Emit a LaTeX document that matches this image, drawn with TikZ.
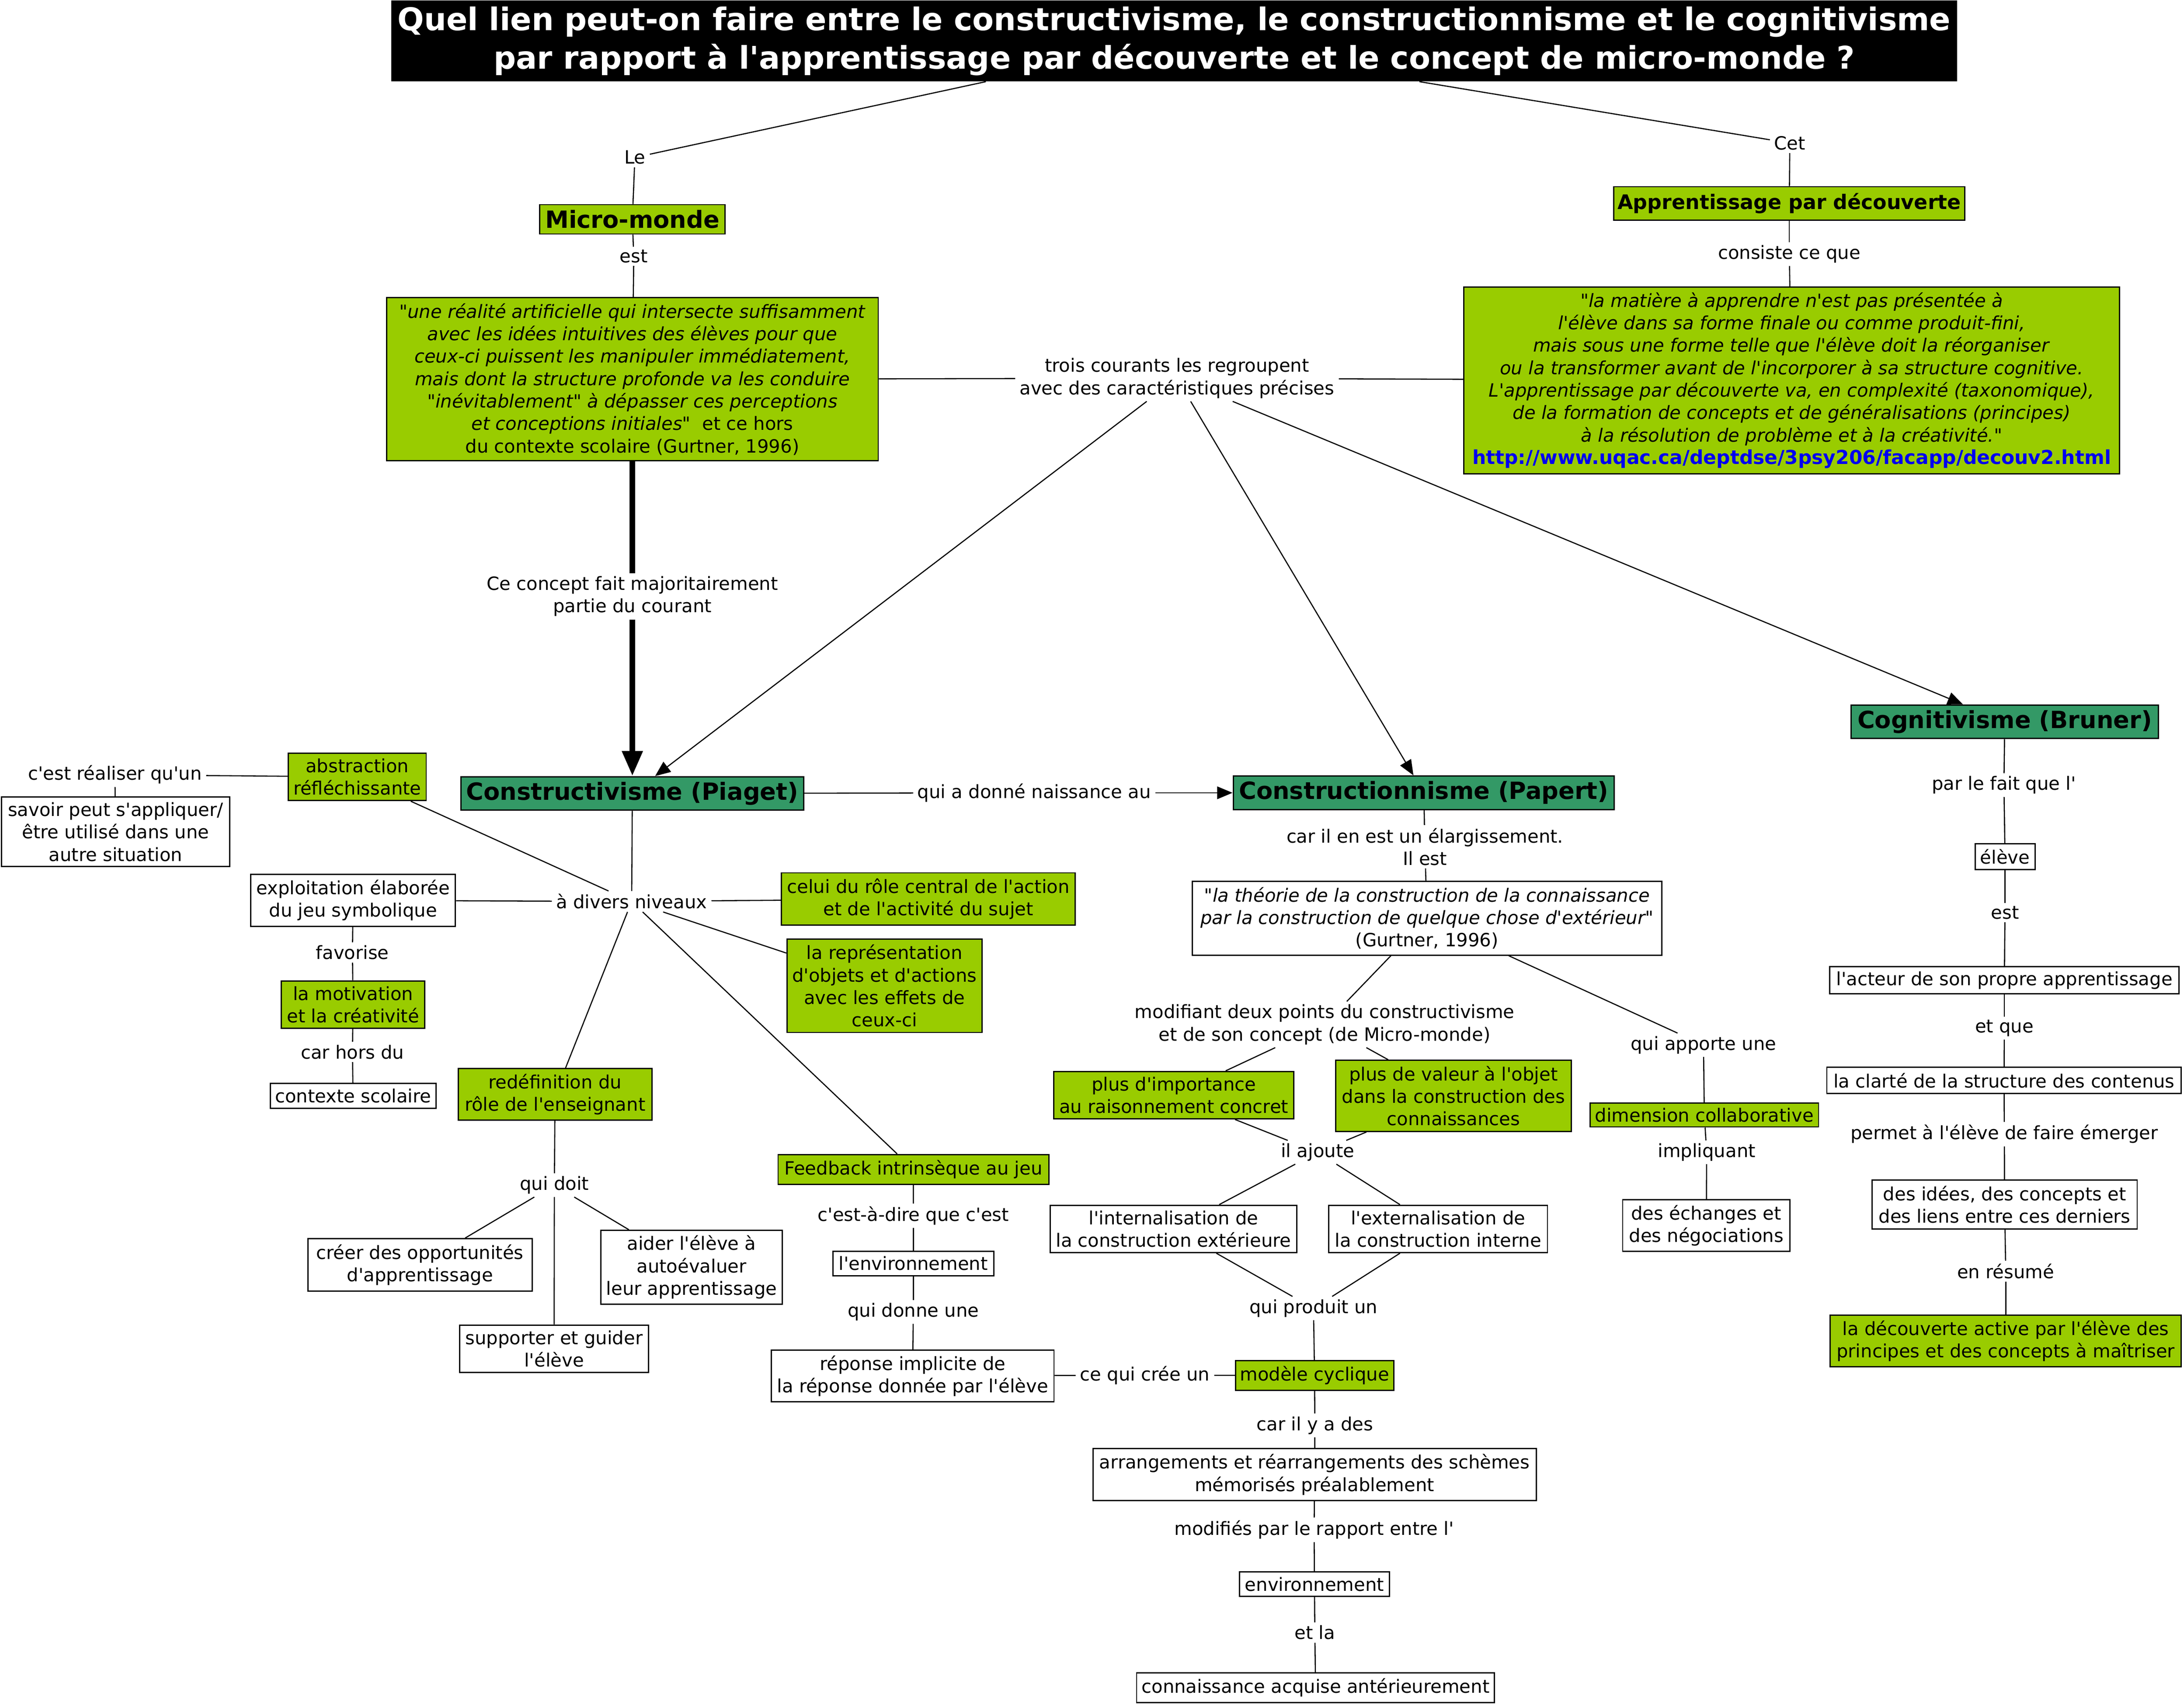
\documentclass[tikz,border=0pt]{standalone}
\usepackage{fontspec}
\newfontfamily\dv{DejaVu Sans}
\usetikzlibrary{arrows.meta}
\definecolor{lgreen}{RGB}{153,204,0}
\definecolor{dgreen}{RGB}{51,153,102}
\definecolor{urlblue}{RGB}{0,0,240}
\begin{document}
\begin{tikzpicture}[x=1pt,y=-1pt,
  txt/.style={font=\dv\fontsize{13.1}{16.1}\selectfont, align=center},
  wbox/.style={txt, draw, line width=0.9pt, fill=white, inner xsep=1pt, inner ysep=1pt},
  gbox/.style={wbox, fill=lgreen},
  hbox/.style={draw, line width=1pt, fill=dgreen, font=\dv\fontsize{17}{20}\selectfont\bfseries, inner sep=1pt},
  lbl/.style={txt, inner xsep=3pt, inner ysep=2pt},
  titlebox/.style={fill=black, text=white, font=\dv\fontsize{22.4}{27.6}\selectfont\bfseries, align=center, inner sep=1pt},
  conn/.style={line width=0.8pt},
  arr/.style={conn, -{Triangle[length=11pt,width=9pt]}},
  thick arr/.style={line width=4.2pt, -{Triangle[length=18pt,width=14pt]}}
]
\useasboundingbox (0,0) rectangle (1568,1223.4);
\fill[white] (0,0) rectangle (1568,1223.4);

% title
\node[titlebox, minimum width=1124pt, minimum height=58pt] (title) at (843,29.4)
  {Quel lien peut-on faire entre le constructivisme, le constructionnisme et le cognitivisme\\par rapport à l'apprentissage par découverte et le concept de micro-monde ?};

% top left
\node[lbl] (le) at (455.8,113) {Le};
\node[gbox, font=\dv\fontsize{17}{20}\selectfont\bfseries, minimum width=133pt, minimum height=21pt] (micro) at (454,157.4) {Micro-monde};
\node[lbl] (est1) at (455,184) {est};
\node[gbox, minimum width=353pt, minimum height=117pt] (mmq) at (454,272.2)
  {\textit{"une réalité artificielle qui intersecte suffisamment}\\
   \textit{avec les idées intuitives des élèves pour que}\\
   \textit{ceux-ci puissent les manipuler immédiatement,}\\
   \textit{mais dont la structure profonde va les conduire}\\
   \textit{"inévitablement" à dépasser ces perceptions}\\
   \textit{et conceptions initiales"}\ \ et ce hors\\
   du contexte scolaire (Gurtner, 1996)};

% top right
\node[lbl] (cet) at (1285,102.7) {Cet};
\node[gbox, font=\dv\fontsize{14.4}{17}\selectfont\bfseries, minimum width=252pt, minimum height=24pt] (appr) at (1284.6,146) {Apprentissage par découverte};
\node[lbl] (consiste) at (1284.6,182.4) {consiste ce que};
\node[gbox, minimum width=470.7pt, minimum height=134pt] (adq) at (1286.3,273)
  {\textit{"la matière à apprendre n'est pas présentée à}\\
   \textit{l'élève dans sa forme finale ou comme produit-fini,}\\
   \textit{mais sous une forme telle que l'élève doit la réorganiser}\\
   \textit{ou la transformer avant de l'incorporer à sa structure cognitive.}\\
   \textit{L'apprentissage par découverte va, en complexité (taxonomique),}\\
   \textit{de la formation de concepts et de généralisations (principes)}\\
   \textit{à la résolution de problème et à la créativité."}\\
   {\color{urlblue}\fontsize{13.8}{16.1}\selectfont\bfseries http://www.uqac.ca/deptdse/3psy206/facapp/decouv2.html}};

\node[lbl] (trois) at (845,271.5) {trois courants les regroupent\\avec des caractéristiques précises};
\node[lbl] (concept) at (454,428) {Ce concept fait majoritairement\\partie du courant};

% main currents
\node[hbox, minimum width=246pt, minimum height=24pt] (piaget) at (454,569.5) {Constructivisme (Piaget)};
\node[hbox, minimum width=273.6pt, minimum height=24pt] (papert) at (1022.2,569) {Constructionnisme (Papert)};
\node[hbox, minimum width=220.6pt, minimum height=24pt] (bruner) at (1439.3,518) {Cognitivisme (Bruner)};
\node[lbl] (donne) at (742.5,569) {qui a donné naissance au};

% constructivism branch
\node[gbox, minimum width=99pt, minimum height=34pt] (abstr) at (256.5,557.6) {abstraction\\réfléchissante};
\node[lbl] (cest) at (82.5,556) {c'est réaliser qu'un};
\node[wbox, minimum width=164pt, minimum height=50pt] (savoir) at (83,597) {savoir peut s'appliquer/\\être utilisé dans une\\autre situation};
\node[lbl] (niveaux) at (453.5,647) {à divers niveaux};
\node[wbox, minimum width=147pt, minimum height=37.5pt] (exploit) at (253.5,646.2) {exploitation élaborée\\du jeu symbolique};
\node[gbox, minimum width=211pt, minimum height=37.5pt] (celui) at (666.5,645.2) {celui du rôle central de l'action\\et de l'activité du sujet};
\node[gbox, minimum width=140pt, minimum height=67pt] (repr) at (635,707.5) {la représentation\\d'objets et d'actions\\avec les effets de\\ceux-ci};
\node[lbl] (favorise) at (253,683.6) {favorise};
\node[gbox, minimum width=103pt, minimum height=34pt] (motiv) at (253.5,721) {la motivation\\et la créativité};
\node[lbl] (carhors) at (253,755) {car hors du};
\node[wbox, minimum width=119pt, minimum height=18pt] (contexte) at (253.5,786.5) {contexte scolaire};
\node[gbox, minimum width=139pt, minimum height=37pt] (redef) at (398.5,785.5) {redéfinition du\\rôle de l'enseignant};
\node[lbl] (quidoit) at (398,850.6) {qui doit};
\node[wbox, minimum width=161pt, minimum height=37.6pt] (creer) at (301.5,907.8) {créer des opportunités\\d'apprentissage};
\node[wbox, minimum width=130pt, minimum height=53pt] (aider) at (496.5,909.5) {aider l'élève à\\autoévaluer\\leur apprentissage};
\node[wbox, minimum width=135.5pt, minimum height=34pt] (support) at (397.8,968) {supporter et guider\\l'élève};
\node[gbox, minimum width=194.3pt, minimum height=21.4pt] (feedback) at (655.8,839.3) {Feedback intrinsèque au jeu};
\node[lbl] (cestadire) at (655.7,872.6) {c'est-à-dire que c'est};
\node[wbox, minimum width=115.4pt, minimum height=17.6pt] (env1) at (655.7,906.8) {l'environnement};
\node[lbl] (quidonne) at (655.7,941.6) {qui donne une};
\node[wbox, minimum width=203pt, minimum height=37pt] (reponse) at (655.2,987.5) {réponse implicite de\\la réponse donnée par l'élève};
\node[lbl] (cree) at (822,987) {ce qui crée un};
\node[gbox, minimum width=113.6pt, minimum height=21.3pt] (modele) at (943.8,987.2) {modèle cyclique};

% constructionism branch
\node[lbl] (carilest) at (1023,607.7) {car il en est un élargissement.\\Il est};
\node[wbox, minimum width=337pt, minimum height=53pt] (theory) at (1024.5,659)
  {\textit{"la théorie de la construction de la connaissance}\\
   \textit{par la construction de quelque chose d'extérieur"}\\
   (Gurtner, 1996)};
\node[lbl] (modif) at (951,735.3) {modifiant deux points du constructivisme\\et de son concept (de Micro-monde)};
\node[lbl] (apporte) at (1223,750) {qui apporte une};
\node[gbox, minimum width=172.5pt, minimum height=34pt] (importance) at (842.7,786) {plus d'importance\\au raisonnement concret};
\node[gbox, minimum width=169pt, minimum height=51pt] (valeur) at (1043.5,786.5) {plus de valeur à l'objet\\dans la construction des\\connaissances};
\node[lbl] (ajoute) at (946,827) {il ajoute};
\node[wbox, minimum width=177pt, minimum height=34pt] (intern) at (842.5,882) {l'internalisation de\\la construction extérieure};
\node[wbox, minimum width=157pt, minimum height=34pt] (extern) at (1032.5,882) {l'externalisation de\\la construction interne};
\node[lbl] (produit) at (943,939) {qui produit un};
\node[lbl] (carilya) at (944,1023) {car il y a des};
\node[wbox, minimum width=318.3pt, minimum height=37.4pt] (arrang) at (943.8,1058.3) {arrangements et réarrangements des schèmes\\mémorisés préalablement};
\node[lbl] (modifies) at (943.5,1098) {modifiés par le rapport entre l'};
\node[wbox, minimum width=107.5pt, minimum height=17.7pt] (env2) at (943.7,1136.9) {environnement};
\node[lbl] (etla) at (944,1171.7) {et la};
\node[wbox, minimum width=257pt, minimum height=21.4pt] (connais) at (944.5,1211.3) {connaissance acquise antérieurement};
\node[gbox, minimum width=164pt, minimum height=17.2pt] (collab) at (1223.6,800.2) {dimension collaborative};
\node[lbl] (impl) at (1225.3,827) {impliquant};
\node[wbox, minimum width=120pt, minimum height=37pt] (echanges) at (1225,879.5) {des échanges et\\des négociations};

% cognitivism branch
\node[lbl] (parlefait) at (1438.7,563.5) {par le fait que l'};
\node[wbox, minimum width=43pt, minimum height=18.4pt] (eleve) at (1439.5,614.8) {élève};
\node[lbl] (est2) at (1439.5,655) {est};
\node[wbox, minimum width=251pt, minimum height=19.6pt] (acteur) at (1439,703.5) {l'acteur de son propre apprentissage};
\node[lbl] (etque) at (1439,738) {et que};
\node[wbox, minimum width=254.5pt, minimum height=18.7pt] (clarte) at (1438.8,775.4) {la clarté de la structure des contenus};
\node[lbl] (permet) at (1439,814) {permet à l'élève de faire émerger};
\node[wbox, minimum width=190.4pt, minimum height=35pt] (idees) at (1439.2,864.5) {des idées, des concepts et\\des liens entre ces derniers};
\node[lbl] (resume) at (1440,912.4) {en résumé};
\node[gbox, minimum width=252pt, minimum height=37pt] (decouv) at (1440,962.5) {la découverte active par l'élève des\\principes et des concepts à maîtriser};

% connectors
\draw[conn] (title) -- (le);
\draw[conn] (le) -- (micro);
\draw[conn] (micro) -- (est1);
\draw[conn] (est1) -- (mmq);
\draw[conn] (title) -- (cet);
\draw[conn] (cet) -- (appr);
\draw[conn] (appr) -- (consiste);
\draw[conn] (consiste) -- (adq);
\draw[conn] (mmq) -- (trois);
\draw[conn] (adq) -- (trois);
\draw[arr] (trois) -- (piaget);
\draw[arr] (trois) -- (papert);
\draw[arr] (trois) -- (bruner);
\draw[line width=4.2pt] (mmq) -- (concept);
\draw[thick arr] (concept) -- (piaget);
\draw[conn] (piaget) -- (donne);
\draw[arr] (donne) -- (papert);

\draw[conn] (abstr) -- (cest);
\draw[conn] (cest) -- (savoir);
\draw[conn] (piaget) -- (niveaux);
\draw[conn] (abstr) -- (niveaux);
\draw[conn] (exploit) -- (niveaux);
\draw[conn] (niveaux) -- (celui);
\draw[conn] (niveaux) -- (repr);
\draw[conn] (niveaux) -- (redef);
\draw[conn] (niveaux) -- (feedback);
\draw[conn] (exploit) -- (favorise);
\draw[conn] (favorise) -- (motiv);
\draw[conn] (motiv) -- (carhors);
\draw[conn] (carhors) -- (contexte);
\draw[conn] (redef) -- (quidoit);
\draw[conn] (quidoit) -- (creer);
\draw[conn] (quidoit) -- (aider);
\draw[conn] (quidoit) -- (support);
\draw[conn] (feedback) -- (cestadire);
\draw[conn] (cestadire) -- (env1);
\draw[conn] (env1) -- (quidonne);
\draw[conn] (quidonne) -- (reponse);
\draw[conn] (reponse) -- (cree);
\draw[conn] (cree) -- (modele);

\draw[conn] (papert) -- (carilest);
\draw[conn] (carilest) -- (theory);
\draw[conn] (theory) -- (modif);
\draw[conn] (theory) -- (apporte);
\draw[conn] (modif) -- (importance);
\draw[conn] (modif) -- (valeur);
\draw[conn] (importance) -- (ajoute);
\draw[conn] (valeur) -- (ajoute);
\draw[conn] (ajoute) -- (intern);
\draw[conn] (ajoute) -- (extern);
\draw[conn] (intern) -- (produit);
\draw[conn] (extern) -- (produit);
\draw[conn] (produit) -- (modele);
\draw[conn] (modele) -- (carilya);
\draw[conn] (carilya) -- (arrang);
\draw[conn] (arrang) -- (modifies);
\draw[conn] (modifies) -- (env2);
\draw[conn] (env2) -- (etla);
\draw[conn] (etla) -- (connais);
\draw[conn] (apporte) -- (collab);
\draw[conn] (collab) -- (impl);
\draw[conn] (impl) -- (echanges);

\draw[conn] (bruner) -- (parlefait);
\draw[conn] (parlefait) -- (eleve);
\draw[conn] (eleve) -- (est2);
\draw[conn] (est2) -- (acteur);
\draw[conn] (acteur) -- (etque);
\draw[conn] (etque) -- (clarte);
\draw[conn] (clarte) -- (permet);
\draw[conn] (permet) -- (idees);
\draw[conn] (idees) -- (resume);
\draw[conn] (resume) -- (decouv);
\end{tikzpicture}
\end{document}
